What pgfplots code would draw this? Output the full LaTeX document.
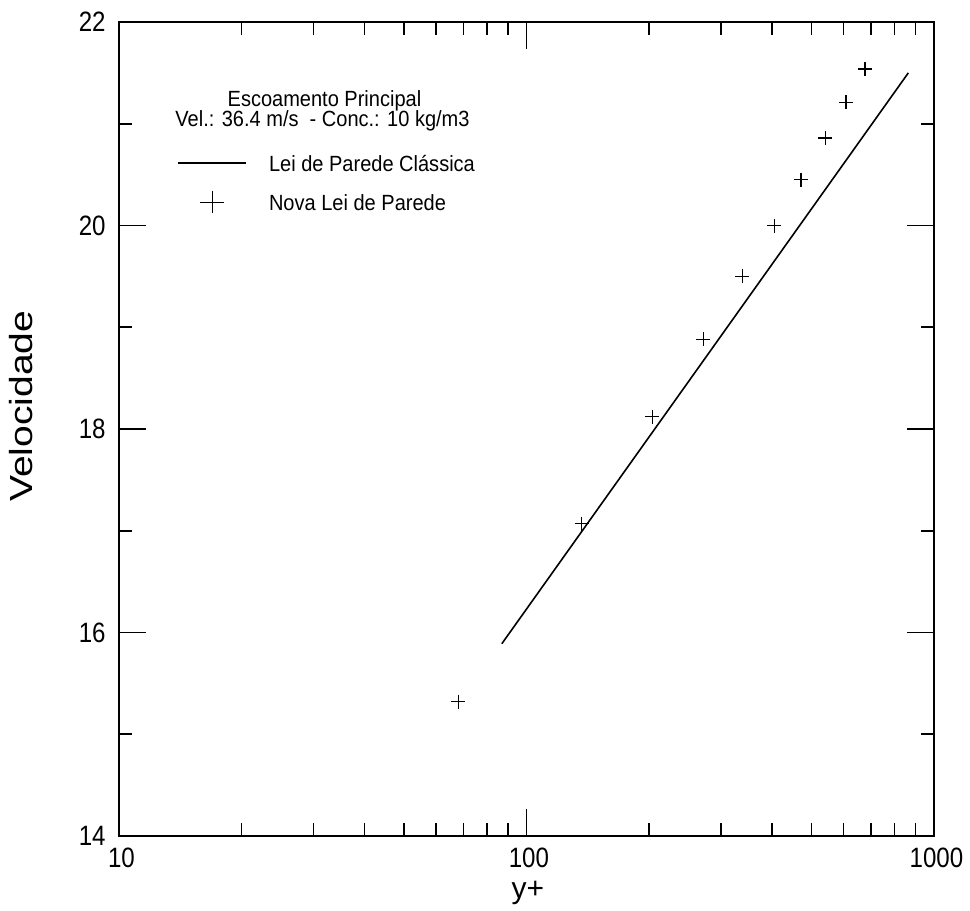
\documentclass[border=0pt]{standalone}
\usepackage{fontspec}
\setmainfont{Liberation Sans}
\newfontfamily\tickfont[FakeStretch=0.86]{Liberation Sans}
\newfontfamily\notefont[FakeStretch=0.91]{Liberation Sans}
\newfontfamily\vlabfont[FakeStretch=1.22]{Liberation Sans}
\usepackage{pgfplots}
\pgfplotsset{compat=1.18}

\begin{document}
\begin{tikzpicture}
\begin{axis}[
  scale only axis,
  width=407.5pt, height=407pt,
  xmode=log, log basis x=10,
  xmin=10, xmax=1000, ymin=14, ymax=22,
  xtick={10,100,1000}, xticklabels={10,100,1000},
  minor xtick={20,30,40,50,60,70,80,90,200,300,400,500,600,700,800,900},
  ytick={14,16,18,20,22}, yticklabels={14,16,18,20,22},
  minor ytick={15,17,19,21},
  tick align=inside,
  major tick length=13.5pt, minor tick length=6.5pt,
  axis line style={line width=0.9pt, black},
  every tick/.style={line width=0.8pt, black},
  /pgf/number format/assume math mode=true,
  tick label style={font=\tickfont\fontsize{14}{16}\selectfont},
  xticklabel style={anchor=north, inner sep=0pt, yshift=-6pt, xshift=1.2pt},
  yticklabel style={anchor=east, inner sep=0pt, xshift=-6.5pt},
  xlabel={y+},
  xlabel style={at={(axis description cs:0.5018,-0.0762)}, anchor=base,
    font=\fontsize{15}{17}\selectfont},
  ylabel={Velocidade},
  ylabel style={at={(axis description cs:-0.1196,0.528)}, anchor=center,
    font=\vlabfont\fontsize{16}{18}\selectfont},
  legend style={at={(axis description cs:0.0712,0.8370)}, anchor=north west,
    draw=none, fill=none, inner sep=0pt, row sep=11.65pt, column sep=11pt,
    font=\notefont\fontsize{11}{12}\selectfont,
    nodes={inner sep=0pt, text height=8pt, text depth=0pt},
    cells={anchor=west}},
]
% classical log law of the wall
\addplot[black, line width=0.8pt,
  legend image code/.code={\draw[black, line width=0.8pt] (0pt,0pt) -- (34pt,0pt);}]
  coordinates {(87,15.89) (865,21.50)};
\addlegendentry{Lei de Parede Clássica}
% new wall law
\addplot[black, only marks, mark=+, mark size=3.5pt, mark options={line width=0.7pt},
  legend image code/.code={\path[draw=none, fill=none] (0pt,0pt) -- (34pt,0pt);
    \draw[overlay, black, line width=0.6pt] (11pt,0pt) -- (23pt,0pt) (17pt,-5.5pt) -- (17pt,5.5pt);}]
  coordinates {
    (68.0,15.32) (136.6,17.07) (203.5,18.12) (271.6,18.88) (338.6,19.50)
    (405.5,20.00) (471.8,20.45) (541,20.86) (608,21.21) (677,21.54)
  };
\addlegendentry{Nova Lei de Parede}
\node[anchor=base, font=\notefont\fontsize{11}{12}\selectfont]
  at (axis description cs:0.2521,0.8959) {Escoamento Principal};
\node[anchor=base, font=\notefont\fontsize{11}{12}\selectfont]
  at (axis description cs:0.2497,0.8722) {Vel.: 36.4 m/s\ \ - Conc.: 10 kg/m3};
\end{axis}
\pgfresetboundingbox
\path (-59.5pt,-37.5pt) rectangle (425.5pt,418pt);
\end{tikzpicture}
\end{document}
